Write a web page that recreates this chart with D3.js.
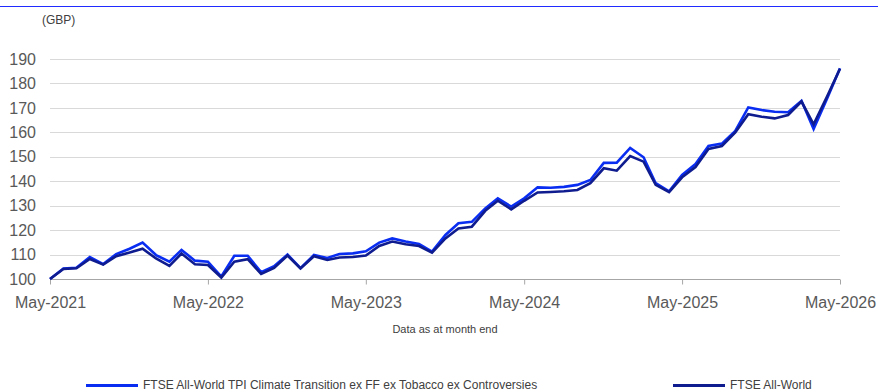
<!DOCTYPE html>
<html>
<head>
<meta charset="utf-8">
<script src="https://cdn.jsdelivr.net/npm/d3@7"></script>
<style>
  html, body { margin: 0; padding: 0; background: #fff; }
  svg { display: block; font-family: "Liberation Sans", Arial, sans-serif; }
</style>
</head>
<body>
<svg id="chart" width="878" height="392"></svg>
<script>
// Month-end observations, May 2021 to May 2026
const months = d3.range(61).map(i => new Date(Date.UTC(2021, 4 + i, 1)));

const seriesNames = [
  "FTSE All-World TPI Climate Transition ex FF ex Tobacco ex Controversies",
  "FTSE All-World"
];

const climateTransition = [
  100, 104.3, 104.6, 109, 106.1, 110.2, 112.4, 114.9, 109.8, 107.1, 111.9, 107.5,
  107.1, 101, 109.5, 109.5, 102.8, 105.2, 110, 104.4, 109.8, 108.6, 110.2, 110.5,
  111.3, 114.9, 116.6, 115.3, 114.3, 111.2, 118, 122.8, 123.4, 128.9, 133, 129.6,
  133, 137.5, 137.3, 137.7, 138.5, 140.5, 147.5, 147.6, 153.6, 149.8, 139.2, 135.9,
  142.6, 147, 154.4, 155.4, 160.6, 170.2, 169.1, 168.4, 168.2, 172.9, 161.4, 173.8,
  186.2
];

const allWorld = [
  100, 104.1, 104.4, 108.2, 105.9, 109.3, 110.8, 112.4, 108.4, 105.4, 110.4, 106,
  105.7, 100.6, 107.1, 108.1, 102.1, 104.5, 109.6, 104.3, 109.3, 107.8, 108.8, 109,
  109.6, 113.5, 115.3, 114.2, 113.5, 110.8, 116.6, 120.7, 121.4, 127.9, 132, 128.5,
  132, 135.4, 135.6, 135.9, 136.4, 139.2, 145.3, 144.3, 150.3, 148, 138.5, 135.5,
  141.6, 145.8, 153.2, 154.4, 160, 167.4, 166.4, 165.7, 167.1, 172.6, 163.3, 174.6,
  186
];

const yTicks = [100, 110, 120, 130, 140, 150, 160, 170, 180, 190];
const xTicks = [2021, 2022, 2023, 2024, 2025, 2026].map(yr => new Date(Date.UTC(yr, 4, 1)));

const colors = ["#0a2df2", "#0f1c8f"];

const svg = d3.select("#chart");
const plotLeft = 50, plotRight = 840, plotTop = 59, plotBottom = 279;

const x = d3.scaleUtc().domain([months[0], months[months.length - 1]]).range([plotLeft, plotRight]);
const y = d3.scaleLinear().domain([100, 190]).range([plotBottom, plotTop]);

// Top rule
svg.append("line")
  .attr("x1", 0).attr("x2", 878).attr("y1", 6.5).attr("y2", 6.5)
  .attr("stroke", "#1f2bff").attr("stroke-width", 1);

// Unit label
svg.append("text")
  .attr("x", 42).attr("y", 24)
  .attr("font-size", 12).attr("fill", "#404040")
  .text("(GBP)");

// Horizontal gridlines
svg.append("g")
  .selectAll("line")
  .data(yTicks.filter(t => t > 100))
  .join("line")
  .attr("x1", plotLeft).attr("x2", plotRight)
  .attr("y1", d => Math.round(y(d)) + 0.5).attr("y2", d => Math.round(y(d)) + 0.5)
  .attr("stroke", "#d9d9d9").attr("stroke-width", 1);

// Y axis labels
const yAxis = d3.axisLeft(y).tickValues(yTicks).tickSize(0).tickPadding(14);
svg.append("g")
  .attr("transform", `translate(${plotLeft},0)`)
  .call(yAxis)
  .call(g => g.select(".domain").remove())
  .call(g => g.selectAll("text")
    .attr("font-size", 16)
    .attr("fill", "#595959")
    .attr("font-family", "Liberation Sans, Arial, sans-serif"));

// X axis
const xAxis = d3.axisBottom(x).tickValues(xTicks).tickSize(5).tickPadding(12)
  .tickFormat(d3.utcFormat("%b-%Y"));
svg.append("g")
  .attr("transform", `translate(0,${plotBottom + 0.5})`)
  .call(xAxis)
  .call(g => g.select(".domain").attr("stroke", "#a6a6a6").attr("d", `M${plotLeft},0H${plotRight}`))
  .call(g => g.selectAll(".tick line").attr("stroke", "#a6a6a6"))
  .call(g => g.selectAll("text")
    .attr("font-size", 16)
    .attr("fill", "#595959")
    .attr("font-family", "Liberation Sans, Arial, sans-serif"));

// Axis caption
svg.append("text")
  .attr("x", 445).attr("y", 333)
  .attr("text-anchor", "middle")
  .attr("font-size", 11).attr("fill", "#404040")
  .text("Data as at month end");

// Series lines
const line = d3.line()
  .x((d, i) => x(months[i]))
  .y(d => y(d));

[climateTransition, allWorld].forEach((vals, k) => {
  svg.append("path")
    .datum(vals)
    .attr("d", line)
    .attr("fill", "none")
    .attr("stroke", colors[k])
    .attr("stroke-width", 2.6)
    .attr("stroke-linejoin", "miter");
});

// Legend along the bottom edge
const legendPos = [{ x: 86, tx: 143 }, { x: 673, tx: 730 }];
const legend = svg.append("g");
seriesNames.forEach((name, k) => {
  legend.append("line")
    .attr("x1", legendPos[k].x).attr("x2", legendPos[k].x + 52)
    .attr("y1", 385.5).attr("y2", 385.5)
    .attr("stroke", colors[k]).attr("stroke-width", 3);
  legend.append("text")
    .attr("x", legendPos[k].tx).attr("y", 389)
    .attr("font-size", 12).attr("fill", "#404040")
    .text(name);
});
</script>
</body>
</html>
